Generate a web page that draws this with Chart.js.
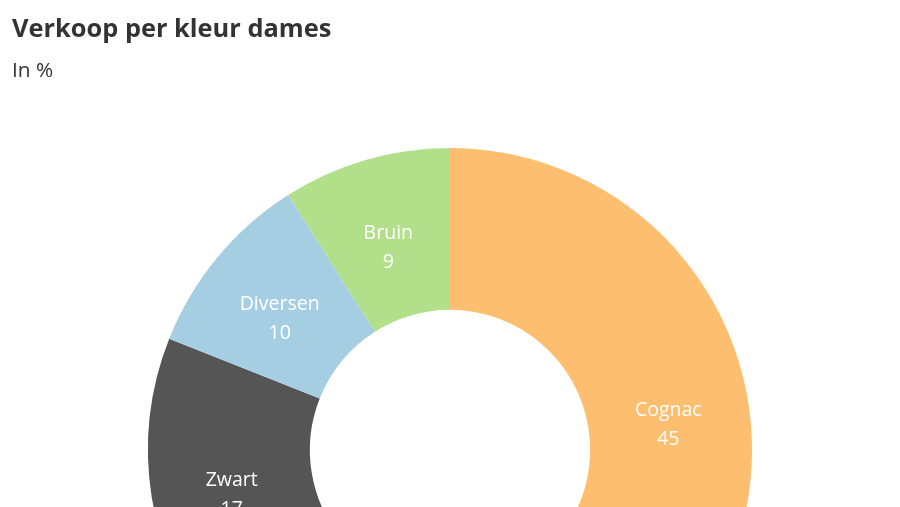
<!DOCTYPE html>
<html>
<head>
<meta charset="utf-8">
<script src="https://cdn.jsdelivr.net/npm/chart.js@4"></script>
<style>
  html, body { margin: 0; padding: 0; background: #fff; overflow: hidden; }
  #wrap { position: relative; width: 900px; height: 507px; overflow: hidden; font-family: "Open Sans", sans-serif; }
  h1 { position: absolute; left: 12px; top: 10px; margin: 0; font-size: 25.4px; font-weight: 700; color: #333; }
  h2 { position: absolute; left: 12px; top: 55px; margin: 0; font-size: 20.8px; font-weight: 400; color: #333; }
  #box { position: absolute; left: 0; top: 0; width: 900px; height: 900px; }
</style>
</head>
<body>
<div id="wrap">
  <div id="box"><canvas id="grafiek"></canvas></div>
  <h1>Verkoop per kleur dames</h1>
  <h2>In %</h2>
</div>
<script>
// Data (clockwise vanaf boven)
var kleuren = ["Cognac", "Overig", "Zwart", "Diversen", "Bruin"];
var percentages = [45, 19, 17, 10, 9];
var vulkleuren = ["#fdbf6f", "#1f78b4", "#555555", "#a6cee3", "#b2df8a"];

// Labels in de segmenten tekenen
var segmentLabels = {
  id: "segmentLabels",
  afterDatasetsDraw: function (chart) {
    var ctx = chart.ctx;
    var meta = chart.getDatasetMeta(0);
    ctx.save();
    ctx.fillStyle = "#ffffff";
    ctx.font = "19.5px 'Open Sans'";
    ctx.textAlign = "center";
    ctx.textBaseline = "middle";
    meta.data.forEach(function (arc, i) {
      var p = arc.tooltipPosition();
      ctx.fillText(kleuren[i], p.x, p.y - 4.5);
      ctx.fillText(String(percentages[i]), p.x, p.y + 24.5);
    });
    ctx.restore();
  }
};

var ctx = document.getElementById("grafiek").getContext("2d");
new Chart(ctx, {
  type: "doughnut",
  data: {
    labels: kleuren,
    datasets: [{
      data: percentages,
      backgroundColor: vulkleuren,
      borderWidth: 0
    }]
  },
  options: {
    responsive: true,
    maintainAspectRatio: false,
    animation: false,
    cutout: "46.4%",
    layout: { padding: 148 },
    plugins: {
      legend: { display: false },
      tooltip: { enabled: false }
    }
  },
  plugins: [segmentLabels]
});
</script>
</body>
</html>
